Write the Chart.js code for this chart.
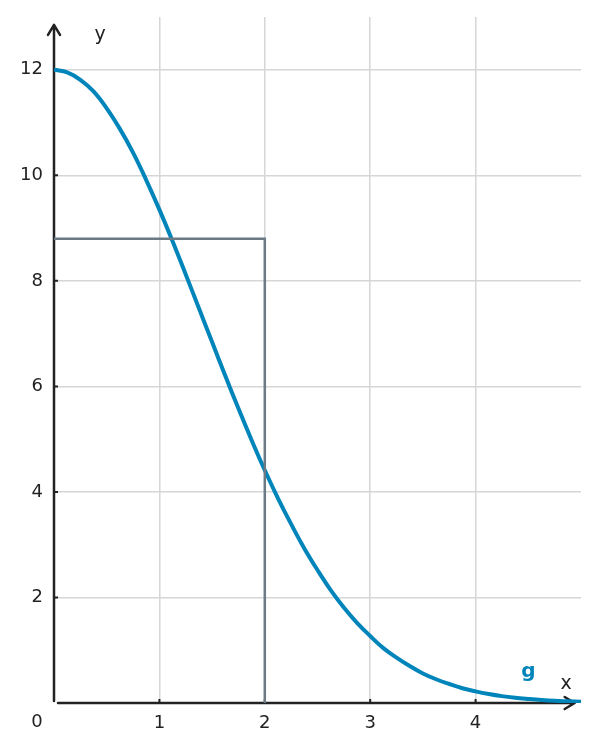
<!DOCTYPE html>
<html>
<head>
<meta charset="utf-8">
<script src="https://cdn.jsdelivr.net/npm/chart.js@4/dist/chart.umd.min.js"></script>
<style>
  body { margin: 0; background: #fff; }
  #wrap { width: 600px; height: 752px; }
</style>
</head>
<body>
<div id="wrap"><canvas id="graph"></canvas></div>
<script>
// ------- data -------
const xs = [0, 0.125, 0.25, 0.375, 0.5, 0.625, 0.75, 0.875, 1, 1.125, 1.25, 1.375, 1.5, 1.625, 1.75, 1.875,
            2, 2.125, 2.25, 2.375, 2.5, 2.625, 2.75, 2.875, 3, 3.125, 3.25, 3.375, 3.5, 3.625, 3.75, 3.875,
            4, 4.125, 4.25, 4.375, 4.5, 4.625, 4.75, 4.875, 5];
const gValues = [12.0, 11.95, 11.81, 11.59, 11.27, 10.88, 10.43, 9.91, 9.35, 8.75, 8.12, 7.48, 6.84, 6.2, 5.58, 4.98,
                 4.41, 3.88, 3.39, 2.93, 2.52, 2.14, 1.81, 1.52, 1.27, 1.04, 0.86, 0.7, 0.56, 0.45, 0.36, 0.28,
                 0.22, 0.17, 0.13, 0.1, 0.077, 0.057, 0.042, 0.032, 0.023];
const rectX = [0, 2, 2];
const rectY = [8.8, 8.8, 0];
const xTicks = [1, 2, 3, 4];
const yTicks = [2, 4, 6, 8, 10, 12];

const font = "DejaVu Sans";
const blue = "#0085bb";

// axes with arrows + free labels
const axesPlugin = {
  id: 'axesPlugin',
  beforeDatasetsDraw(chart) {
    const ctx = chart.ctx;
    const x = chart.scales.x, y = chart.scales.y;
    const x0 = x.getPixelForValue(0), y0 = y.getPixelForValue(0);
    ctx.save();
    ctx.strokeStyle = '#222';
    ctx.lineWidth = 2.5;
    ctx.lineCap = 'round';
    ctx.lineJoin = 'round';
    // y axis
    const yTop = y.getPixelForValue(12.85);
    ctx.beginPath();
    ctx.moveTo(x0, y0 - 2);
    ctx.lineTo(x0, yTop);
    ctx.moveTo(x0 - 6, yTop + 10);
    ctx.lineTo(x0, yTop);
    ctx.lineTo(x0 + 6, yTop + 10);
    ctx.stroke();
    // x axis
    const xEnd = x.getPixelForValue(4.94);
    ctx.beginPath();
    ctx.moveTo(x0 + 4, y0);
    ctx.lineTo(xEnd, y0);
    ctx.moveTo(xEnd - 10, y0 - 6);
    ctx.lineTo(xEnd, y0);
    ctx.lineTo(xEnd - 10, y0 + 6);
    ctx.stroke();
    // small tick marks
    ctx.lineWidth = 2;
    ctx.lineCap = 'butt';
    ctx.beginPath();
    xTicks.forEach(v => {
      const px = x.getPixelForValue(v);
      ctx.moveTo(px, y0);
      ctx.lineTo(px, y0 - 4);
    });
    yTicks.forEach(v => {
      const py = y.getPixelForValue(v);
      ctx.moveTo(x0, py);
      ctx.lineTo(x0 + 4, py);
    });
    ctx.stroke();
    ctx.restore();
  },
  afterDraw(chart) {
    const ctx = chart.ctx;
    const x = chart.scales.x, y = chart.scales.y;
    const x0 = x.getPixelForValue(0), y0 = y.getPixelForValue(0);
    ctx.save();
    ctx.textAlign = 'center';
    ctx.textBaseline = 'middle';
    ctx.fillStyle = '#222';
    ctx.font = '18px ' + font;
    ctx.fillText('0', x0 - 17, y0 + 19);
    ctx.font = '19px ' + font;
    ctx.fillText('y', x0 + 46, y.getPixelForValue(12.65));
    ctx.fillText('x', x.getPixelForValue(4.86), y0 - 19);
    ctx.fillStyle = blue;
    ctx.font = 'bold 20px ' + font;
    ctx.fillText('g', x.getPixelForValue(4.5), y0 - 31);
    ctx.restore();
  }
};

new Chart(document.getElementById('graph'), {
  type: 'scatter',
  data: {
    datasets: [
      {
        label: 'rect',
        data: rectX.map((v, i) => ({ x: v, y: rectY[i] })),
        showLine: true,
        borderColor: '#6b7a84',
        borderWidth: 2.5,
        pointRadius: 0,
        tension: 0
      },
      {
        label: 'g',
        data: xs.map((v, i) => ({ x: v, y: gValues[i] })),
        showLine: true,
        borderColor: blue,
        borderWidth: 4,
        pointRadius: 0,
        tension: 0.4
      }
    ]
  },
  options: {
    responsive: true,
    maintainAspectRatio: false,
    animation: false,
    layout: { padding: { left: 0, right: 19, top: 17, bottom: 0 } },
    plugins: {
      legend: { display: false },
      tooltip: { enabled: false }
    },
    scales: {
      x: {
        type: 'linear',
        min: 0,
        max: 5,
        afterBuildTicks: s => { s.ticks = xTicks.map(v => ({ value: v })); },
        afterFit: s => { s.height = 49; s.paddingLeft = 0; s.paddingRight = 0; },
        grid: { color: '#d6d6d6', lineWidth: 1.5, drawTicks: false },
        border: { display: false },
        ticks: { color: '#222', font: { family: font, size: 18 }, padding: 10 }
      },
      y: {
        type: 'linear',
        min: 0,
        max: 13,
        afterBuildTicks: s => { s.ticks = yTicks.map(v => ({ value: v })); },
        afterFit: s => { s.width = 54; s.paddingTop = 0; s.paddingBottom = 0; },
        grid: { color: '#d6d6d6', lineWidth: 1.5, drawTicks: false },
        border: { display: false },
        ticks: { color: '#222', font: { family: font, size: 18 }, padding: 11 }
      }
    }
  },
  plugins: [axesPlugin]
});
</script>
</body>
</html>
